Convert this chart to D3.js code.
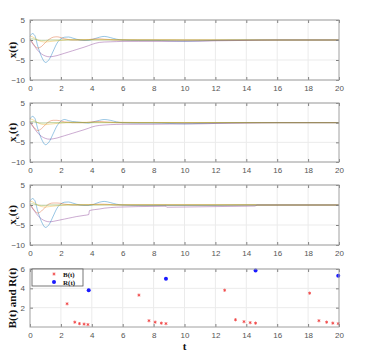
<!DOCTYPE html>
<meta charset="utf-8">
<style>
body { margin: 0; background: #fff; }
.tick text { font: 8px "Liberation Sans", Arial, sans-serif; fill: #555; }
.ylab, .xlab { font: bold 11px "Liberation Serif", "Times New Roman", serif; fill: #111; }
.leg text { font: bold 7px "Liberation Serif", serif; fill: #111; }
.grid line { stroke: #ebebeb; stroke-width: 1; }
.frame { fill: none; stroke: #a0a0a0; stroke-width: 1; }
.curve { fill: none; stroke-width: 0.9; stroke-opacity: 0.45; }
</style>
<svg width="377" height="361"></svg>
<script src="https://cdn.jsdelivr.net/npm/d3@7"></script>
<script>

// sample times shared by the state curves
var T = [0, 0.15, 0.3, 0.5, 0.75, 1.0, 1.25, 1.5, 1.75, 2.0, 2.25, 2.5, 2.75, 3.0, 3.5, 3.8, 4.0, 4.5, 4.8, 5.2, 5.6, 6, 7, 8, 9, 10, 11, 12, 14, 16, 18, 20];

// x(t)
var xBlue   = [0.9, 1.6, 1.2, -1.5, -4.2, -5.6, -4.8, -2.8, -0.8, 0.3, 0.7, 0.75, 0.5, 0.2, -0.1, -0.1, 0.1, 0.7, 0.9, 0.6, 0.2, 0, -0.1, -0.1, -0.2, -0.3, -0.2, -0.1, 0, 0, 0, 0];
var xOrange = [0.3, -0.6, -1.4, -2.0, -1.6, -0.6, 0.2, 0.7, 0.8, 0.6, 0.3, 0.1, 0, 0, 0, 0.1, 0.2, 0.3, 0.2, 0.1, 0, 0, 0, 0, 0, 0, 0, 0, 0, 0, 0, 0];
var xYellow = [1.0, 0.8, 0.5, 0, -0.4, -0.5, -0.4, -0.3, -0.2, -0.1, 0, 0.1, 0.1, 0.1, 0.1, 0.1, 0.1, 0.1, 0.1, 0.1, 0.1, 0.1, 0.05, 0.05, 0.05, 0, 0, 0, 0, 0, 0, 0];
var xPurple = [0, -0.8, -1.6, -2.6, -3.5, -4.0, -4.2, -4.1, -3.9, -3.6, -3.3, -3.0, -2.7, -2.4, -1.8, -1.4, -1.1, -0.6, -0.5, -0.45, -0.4, -0.35, -0.35, -0.35, -0.35, -0.3, -0.3, -0.2, -0.1, 0, 0, 0];
var xGreen  = [0.2, 0.3, 0.2, 0, -0.1, -0.1, 0, 0, 0, 0, 0, 0, 0, 0, 0, 0, 0, 0, 0, 0, 0, 0, 0, 0, 0, 0, 0, 0, 0, 0, 0, 0];

// x_s(t)
var sBlue   = [0.9, 1.6, 1.2, -1.5, -4.2, -5.6, -4.8, -2.8, -0.8, 0.4, 0.8, 0.5, 0.3, 0.2, 0, -0.1, 0.1, 0.6, 0.8, 0.6, 0.2, 0, -0.1, -0.1, -0.2, -0.3, -0.2, -0.1, 0, 0, 0, 0];
var sOrange = [0.3, -0.6, -1.4, -2.0, -1.5, -0.5, 0.3, 0.6, 0.6, 0.4, 0.2, 0.1, 0, 0, 0, 0.1, 0.2, 0.3, 0.2, 0.1, 0, 0, 0, 0, 0, 0, 0, 0, 0, 0, 0, 0];
var sYellow = [1.0, 0.8, 0.5, 0, -0.4, -0.5, -0.4, -0.3, -0.2, -0.1, 0, 0.1, 0.1, 0.1, 0.1, 0.1, 0.1, 0.1, 0.1, 0.1, 0.1, 0.1, 0.05, 0.05, 0.05, 0, 0, 0, 0, 0, 0, 0];
var sPurple = [0, -0.8, -1.6, -2.6, -3.5, -4.0, -4.2, -4.1, -3.9, -3.6, -3.3, -3.0, -2.7, -2.4, -1.8, -1.4, -1.1, -0.7, -0.6, -0.5, -0.45, -0.4, -0.4, -0.4, -0.35, -0.3, -0.3, -0.2, -0.1, 0, 0, 0];
var sGreen  = [0.2, 0.3, 0.2, 0, -0.1, -0.1, 0, 0, 0, 0, 0, 0, 0, 0, 0, 0, 0, 0, 0, 0, 0, 0, 0, 0, 0, 0, 0, 0, 0, 0, 0, 0];

// x_c(t): controller state, jumps at the event times
var cT      = [0, 0.15, 0.3, 0.5, 0.75, 1.0, 1.25, 1.5, 1.75, 2.0, 2.25, 2.5, 2.75, 3.0, 3.5, 3.8, 3.85, 4.5, 4.8, 5.2, 5.6, 6, 7, 8, 8.8, 8.85, 10, 12, 14, 14.6, 14.65, 16, 18, 20];
var cBlue   = [0.9, 1.6, 1.2, -1.5, -4.2, -5.6, -4.8, -2.8, -0.8, 0.3, 0.7, 0.75, 0.5, 0.2, -0.1, -0.1, -0.1, 0.7, 0.9, 0.6, 0.2, 0, -0.1, -0.1, -0.1, -0.1, -0.1, -0.1, 0, 0, 0, 0, 0, 0];
var cOrange = [0.3, -0.6, -1.4, -2.0, -1.5, -0.5, 0.3, 0.5, 0.5, 0.4, 0.2, 0.1, 0, 0, 0, 0, 0.1, 0.2, 0.2, 0.1, 0, 0, 0, 0, 0, 0, 0, 0, 0, 0, 0, 0, 0, 0];
var cYellow = [1.0, 0.8, 0.5, 0, -0.4, -0.5, -0.4, -0.3, -0.2, -0.1, 0, 0.1, 0.1, 0.1, 0.1, 0.1, 0.1, 0.1, 0.1, 0.1, 0.1, 0.1, 0.1, 0.1, 0.1, 0.1, 0.1, 0.1, 0.1, 0.1, 0, 0, 0, 0];
var cPurple = [0, -0.8, -1.6, -2.6, -3.5, -4.0, -4.2, -4.1, -3.9, -3.7, -3.5, -3.3, -3.1, -2.9, -2.6, -2.4, -1.4, -1.0, -0.8, -0.65, -0.55, -0.5, -0.4, -0.35, -0.3, -0.55, -0.5, -0.4, -0.3, -0.25, 0, 0, 0, 0];
var cGreen  = [0.2, 0.3, 0.2, 0, -0.1, -0.1, 0, 0, 0, 0, 0, 0, 0, 0, 0, 0, 0, 0, 0, 0, 0, 0, 0, 0, 0, 0, 0, 0, 0, 0, 0, 0, 0, 0];

// B(t) and R(t)
var bT = [2.4, 2.9, 3.2, 3.5, 3.75, 7.05, 7.7, 8.1, 8.5, 8.8, 12.6, 13.3, 13.85, 14.25, 14.6, 18.1, 18.7, 19.2, 19.6, 19.95];
var bV = [2.4, 0.5, 0.35, 0.3, 0.25, 3.3, 0.65, 0.5, 0.4, 0.35, 3.8, 0.75, 0.55, 0.45, 0.4, 3.5, 0.65, 0.5, 0.4, 0.35];
var rT = [3.8, 8.8, 14.6, 19.95];
var rV = [3.8, 5.0, 5.85, 5.3];

var xTicks = [0, 2, 4, 6, 8, 10, 12, 14, 16, 18, 20];
var stateTicks = [5, 0, -5, -10];
var brTicks = [2, 4, 6];

var colors = ["#0072BD", "#D95319", "#EDB120", "#7E2F8E", "#77AC30"];

var svg = d3.select("svg");
var left = 30, right = 339;

var x = d3.scaleLinear().domain([0, 20]).range([left, right]);
var fmt = d3.format("d");

function frame(top, bottom, y, yt) {
  var g = svg.append("g");
  g.append("g").attr("class", "grid").selectAll("line").data(xTicks.slice(1, -1)).enter().append("line")
    .attr("x1", function(d) { return x(d); }).attr("x2", function(d) { return x(d); })
    .attr("y1", top).attr("y2", bottom);
  g.append("g").attr("class", "grid").selectAll("line").data(yt).enter().append("line")
    .attr("x1", left).attr("x2", right)
    .attr("y1", function(d) { return y(d); }).attr("y2", function(d) { return y(d); });
  return g;
}

function axes(top, bottom, y, yt) {
  var gx = svg.append("g").attr("transform", "translate(0," + bottom + ")")
    .call(d3.axisBottom(x).tickValues(xTicks).tickFormat(fmt).tickSizeInner(-3).tickSizeOuter(0).tickPadding(5));
  var gt = svg.append("g").attr("transform", "translate(0," + top + ")")
    .call(d3.axisTop(x).tickValues(xTicks).tickSizeInner(-3).tickSizeOuter(0).tickFormat(""));
  var gy = svg.append("g").attr("transform", "translate(" + left + ",0)")
    .call(d3.axisLeft(y).tickValues(yt).tickFormat(fmt).tickSizeInner(-3).tickSizeOuter(0).tickPadding(5));
  var gr = svg.append("g").attr("transform", "translate(" + right + ",0)")
    .call(d3.axisRight(y).tickValues(yt).tickSizeInner(-3).tickSizeOuter(0).tickFormat(""));
  [gx, gt, gy, gr].forEach(function(g) {
    g.select(".domain").remove();
    g.selectAll(".tick line").attr("stroke", "#808080");
  });
  svg.append("rect").attr("class", "frame")
    .attr("x", left).attr("y", top).attr("width", right - left).attr("height", bottom - top);
}

function statePanel(top, bottom, ts, series, sub) {
  var y = d3.scaleLinear().domain([-10, 5]).range([bottom, top]);
  frame(top, bottom, y, stateTicks);
  var line = d3.line().curve(d3.curveMonotoneX)
    .x(function(d) { return x(d[0]); }).y(function(d) { return y(d[1]); });
  series.forEach(function(s, i) {
    svg.append("path").attr("class", "curve")
      .attr("stroke", colors[i])
      .attr("d", line(ts.map(function(t, k) { return [t, s[k]]; })));
  });
  axes(top, bottom, y, stateTicks);
  var lab = svg.append("text").attr("class", "ylab")
    .attr("text-anchor", "middle")
    .attr("transform", "translate(16," + (top + bottom) / 2 + ") rotate(-90)");
  lab.append("tspan").text("x");
  if (sub) lab.append("tspan").attr("dy", 3).attr("font-size", 7).text(sub);
  lab.append("tspan").attr("dy", sub ? -3 : 0).text("(t)");
}

statePanel(20, 80, T, [xBlue, xOrange, xYellow, xPurple, xGreen], "");
statePanel(103, 162, T, [sBlue, sOrange, sYellow, sPurple, sGreen], "s");
statePanel(185, 245, cT, [cBlue, cOrange, cYellow, cPurple, cGreen], "c");

// bottom panel: B(t) and R(t)
var top4 = 269, bot4 = 327;
var y4 = d3.scaleLinear().domain([0, 6]).range([bot4, top4]);
frame(top4, bot4, y4, brTicks);

var star = d3.symbol().type(d3.symbolAsterisk).size(7);
svg.append("g").selectAll("path").data(bT).enter().append("path")
  .attr("transform", function(d, i) { return "translate(" + x(d) + "," + y4(bV[i]) + ")"; })
  .attr("d", star).attr("stroke", "#f04040").attr("stroke-width", 0.8).attr("fill", "none");

svg.append("g").selectAll("circle").data(rT).enter().append("circle")
  .attr("cx", function(d) { return x(d); })
  .attr("cy", function(d, i) { return y4(rV[i]); })
  .attr("r", 2).attr("fill", "#1a1aff");

axes(top4, bot4, y4, brTicks);

// legend
var leg = svg.append("g").attr("class", "leg");
leg.append("rect").attr("x", 32).attr("y", 269).attr("width", 51).attr("height", 17)
  .attr("fill", "#fff").attr("stroke", "#555").attr("stroke-width", 0.8);
leg.append("path").attr("transform", "translate(54,274)").attr("d", star)
  .attr("stroke", "#f04040").attr("stroke-width", 0.8).attr("fill", "none");
leg.append("circle").attr("cx", 54).attr("cy", 282).attr("r", 2).attr("fill", "#1a1aff");
leg.append("text").attr("x", 63).attr("y", 276.5).text("B(t)");
leg.append("text").attr("x", 63).attr("y", 284.5).text("R(t)");

svg.append("text").attr("class", "ylab").attr("text-anchor", "middle")
  .attr("transform", "translate(16," + (top4 + bot4) / 2 + ") rotate(-90)")
  .text("B(t) and R(t)");
svg.append("text").attr("class", "xlab").attr("text-anchor", "middle")
  .attr("x", (left + right) / 2).attr("y", 350).text("t");

</script>
